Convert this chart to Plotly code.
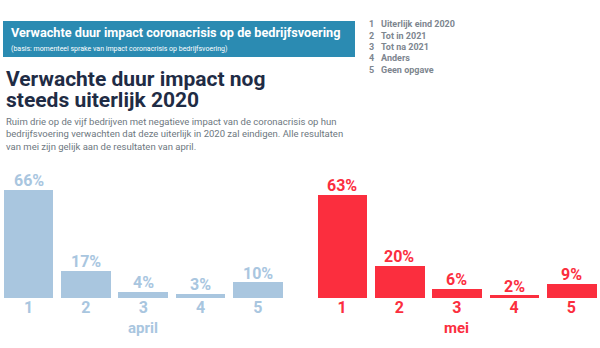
import plotly.graph_objects as go

# Survey data: expected duration of the corona impact on business operations
categories = ["1", "2", "3", "4", "5"]
legend_labels = ["Uiterlijk eind 2020", "Tot in 2021", "Tot na 2021", "Anders", "Geen opgave"]
april_values = [66, 17, 4, 3, 10]
mei_values = [63, 20, 6, 2, 9]

W, H = 600, 348
FONT = "Roboto"
BLUE = "#a9c6df"
RED = "#fb2e3e"
NAVY = "#1f2c45"
GREY = "#6d7780"
HEADER = "#2b8bb2"


def px_x(x):
    return x / W


def px_y(y):
    return 1 - y / H


fig = go.Figure()

panels = [
    (april_values, BLUE, "x", "y"),
    (mei_values, RED, "x2", "y2"),
]

annotations = []

for vals, color, xa, ya in panels:
    fig.add_trace(go.Bar(
        x=categories, y=vals, marker=dict(color=color, line=dict(width=0)),
        width=0.865, xaxis=xa, yaxis=ya,
        hoverinfo="skip", showlegend=False,
    ))
    # value labels sitting just above each bar (category index on the x axis)
    for idx, v in enumerate(vals):
        annotations.append(dict(x=idx, y=v, xref=xa, yref=ya, text=f"{v}%",
                                showarrow=False, xanchor="center", yanchor="bottom",
                                yshift=-3,
                                font=dict(family=FONT, size=16, color=color, weight="bold")))

span = 286.5  # pixel width of five category slots
ybot, ytop = 298, 298 - 164.5

common_x = dict(
    type="category", range=[-0.5, 4.5], showgrid=False, zeroline=False,
    showline=False, ticks="", fixedrange=True,
)
common_y = dict(range=[0, 100], visible=False, fixedrange=True)

fig.update_layout(
    width=W, height=H,
    margin=dict(l=0, r=0, t=0, b=0),
    paper_bgcolor="white", plot_bgcolor="white",
    bargap=0,
    xaxis=dict(**common_x, domain=[px_x(0), px_x(span)],
               tickfont=dict(family=FONT, size=16, color=BLUE, weight="bold"),
               ticklabelstandoff=-2),
    yaxis=dict(**common_y, domain=[px_y(ybot), px_y(ytop)]),
    xaxis2=dict(**common_x, domain=[px_x(313.5), px_x(313.5 + span)],
                tickfont=dict(family=FONT, size=16, color=RED, weight="bold"),
                ticklabelstandoff=-2),
    yaxis2=dict(**common_y, domain=[px_y(ybot), px_y(ytop)], anchor="x2"),
)

# Panel captions under the axes
annotations.append(dict(x=px_x(span / 2), y=px_y(328), xref="paper", yref="paper",
                        text="april", showarrow=False, xanchor="center", yanchor="middle",
                        font=dict(family=FONT, size=15, color=BLUE, weight="bold")))
annotations.append(dict(x=px_x(313.5 + span / 2), y=px_y(328), xref="paper", yref="paper",
                        text="mei", showarrow=False, xanchor="center", yanchor="middle",
                        font=dict(family=FONT, size=15, color=RED, weight="bold")))

# Header bar
fig.add_shape(type="rect", xref="paper", yref="paper",
              x0=px_x(3), x1=px_x(355), y0=px_y(57), y1=px_y(21),
              fillcolor=HEADER, line=dict(width=0), layer="below")
annotations.append(dict(x=px_x(9), y=px_y(32), xref="paper", yref="paper",
                        text="Verwachte duur impact coronacrisis op de bedrijfsvoering",
                        showarrow=False, xanchor="left", yanchor="middle",
                        font=dict(family=FONT, size=12.7, color="white", weight="bold")))
annotations.append(dict(x=px_x(9), y=px_y(49), xref="paper", yref="paper",
                        text="(basis: momenteel sprake van impact coronacrisis op bedrijfsvoering)",
                        showarrow=False, xanchor="left", yanchor="middle",
                        font=dict(family=FONT, size=7, color="white")))

# Category key
for i, (cat, lab) in enumerate(zip(categories, legend_labels)):
    y = 24.5 + i * 11.3
    annotations.append(dict(x=px_x(367), y=px_y(y), xref="paper", yref="paper",
                            text=cat, showarrow=False, xanchor="left", yanchor="middle",
                            font=dict(family=FONT, size=9, color="#7d868f", weight="bold")))
    annotations.append(dict(x=px_x(379), y=px_y(y), xref="paper", yref="paper",
                            text=lab, showarrow=False, xanchor="left", yanchor="middle",
                            font=dict(family=FONT, size=9, color="#7d868f", weight="bold")))

# Headline
annotations.append(dict(x=px_x(4), y=px_y(79), xref="paper", yref="paper",
                        text="Verwachte duur impact nog", showarrow=False,
                        xanchor="left", yanchor="middle",
                        font=dict(family=FONT, size=21, color=NAVY, weight="bold")))
annotations.append(dict(x=px_x(4), y=px_y(99.5), xref="paper", yref="paper",
                        text="steeds uiterlijk 2020", showarrow=False,
                        xanchor="left", yanchor="middle",
                        font=dict(family=FONT, size=21, color=NAVY, weight="bold")))

# Intro text
intro = [
    "Ruim drie op de vijf bedrijven met negatieve impact van de coronacrisis op hun",
    "bedrijfsvoering verwachten dat deze uiterlijk in 2020 zal eindigen. Alle resultaten",
    "van mei zijn gelijk aan de resultaten van april.",
]
for i, line in enumerate(intro):
    annotations.append(dict(x=px_x(4), y=px_y(121.5 + i * 12.5), xref="paper", yref="paper",
                            text=line, showarrow=False, xanchor="left", yanchor="middle",
                            font=dict(family=FONT, size=9.5, color=GREY)))

fig.update_layout(annotations=annotations)

fig.write_html("out.html")
